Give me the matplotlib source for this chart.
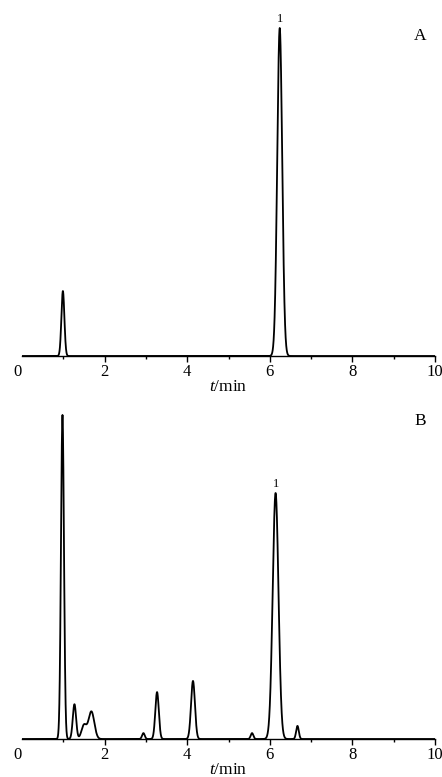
import numpy as np
import matplotlib
matplotlib.use("Agg")
import matplotlib.pyplot as plt

plt.rcParams["font.family"] = ["Liberation Serif", "DejaVu Serif"]
plt.rcParams["mathtext.fontset"] = "custom"
plt.rcParams["mathtext.rm"] = "Liberation Serif"
plt.rcParams["mathtext.it"] = "Liberation Serif:italic"

# peak tables (retention time, relative height, width sigma)
rt_a = [0.99, 6.24]
height_a = [19.8, 100.0]
sigma_a = [0.036, 0.06]

rt_b = [0.98, 1.27, 1.50, 1.68, 2.94, 3.27, 4.14, 5.57, 6.14, 6.67]
height_b = [98.8, 10.6, 4.2, 8.4, 1.8, 14.3, 17.7, 1.8, 75.0, 4.0]
sigma_b = [0.036, 0.04, 0.06, 0.07, 0.032, 0.042, 0.047, 0.032, 0.07, 0.032]

peak_labels_a = {6.24: "1"}
peak_labels_b = {6.14: "1"}

t = np.linspace(0, 10, 5001)


def trace(rts, hs, sig):
    y = np.zeros_like(t)
    for r, h, s in zip(rts, hs, sig):
        y += h * np.exp(-0.5 * ((t - r) / s) ** 2)
    return y


W, H = 442, 777
fig = plt.figure(figsize=(W / 100, H / 100), dpi=100)
px_per_unit = 3.28


def make_axes(bottom_px, top_px):
    ax = fig.add_axes([22 / W, (H - bottom_px) / H, 413 / W, (bottom_px - top_px) / H])
    ax.set_xlim(0, 10)
    ax.set_ylim(0, (bottom_px - top_px) / px_per_unit)
    for s in ["top", "right", "left"]:
        ax.spines[s].set_visible(False)
    ax.spines["bottom"].set_linewidth(1.0)
    ax.set_yticks([])
    ax.set_xticks([0, 2, 4, 6, 8, 10])
    ax.set_xticks([1, 3, 5, 7, 9], minor=True)
    ax.tick_params(axis="x", which="major", length=4, width=1, direction="out",
                   labelsize=12, pad=2)
    ax.tick_params(axis="x", which="minor", length=2, width=1, direction="out")
    ax.xaxis.get_major_ticks()[0].tick1line.set_visible(False)
    ax.get_xticklabels()[0].set_horizontalalignment("right")
    ax.set_xlabel("$t$/min", fontsize=12.5, labelpad=-1)
    return ax


panels = [
    (356, 10, rt_a, height_a, sigma_a, peak_labels_a, "A"),
    (739, 395, rt_b, height_b, sigma_b, peak_labels_b, "B"),
]

for bottom_px, top_px, rts, hs, sig, labels, tag in panels:
    ax = make_axes(bottom_px, top_px)
    y = trace(rts, hs, sig)
    ax.plot(t, y, color="black", lw=1.3)
    for r, txt in labels.items():
        ax.annotate(txt, (r, hs[rts.index(r)]), xytext=(0, 2), textcoords="offset points",
                    ha="center", va="bottom", fontsize=9)
    ax.text(9.64, 1 - 26 / (bottom_px - top_px), tag, transform=ax.get_xaxis_transform(),
            ha="center", va="center", fontsize=12.5)

fig.savefig("out.png", dpi=100, facecolor="white")
